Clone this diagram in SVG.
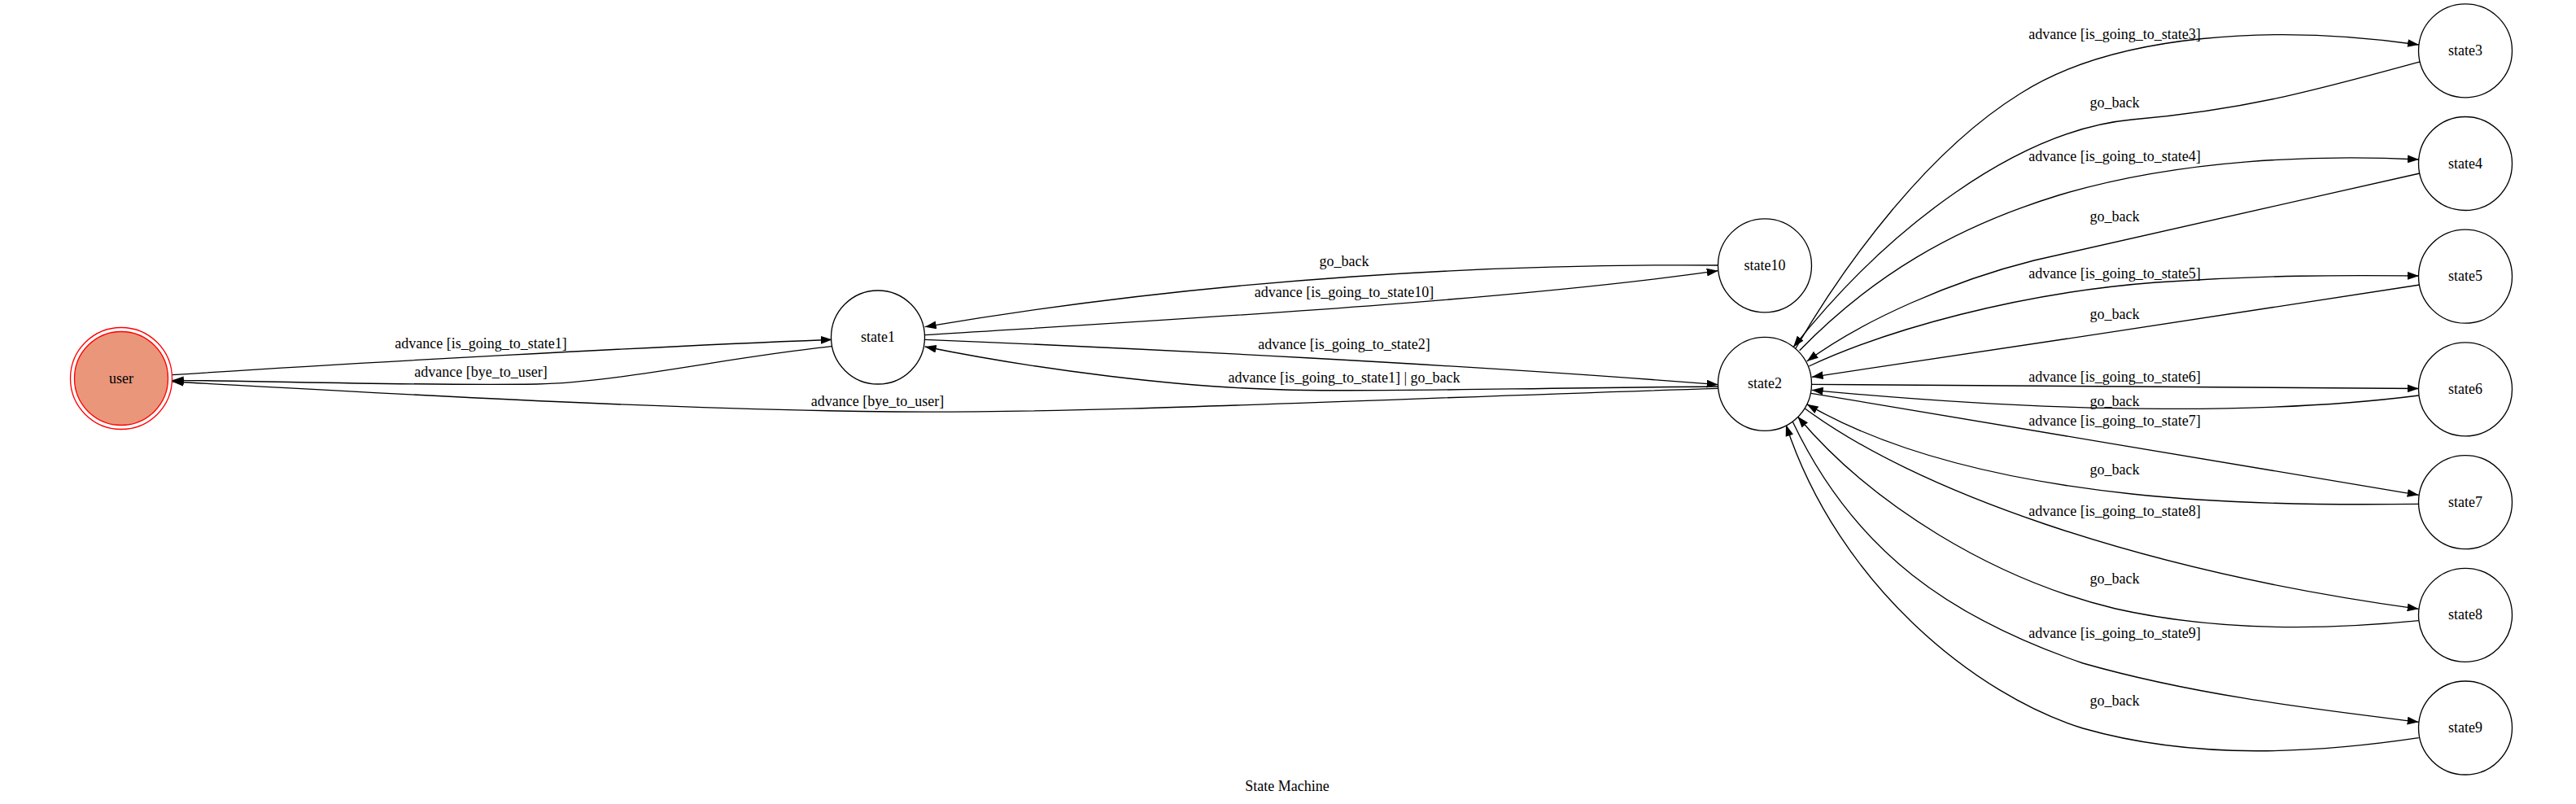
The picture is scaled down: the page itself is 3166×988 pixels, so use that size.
<svg xmlns="http://www.w3.org/2000/svg" width="3166" height="988" viewBox="0 0 3166 988">
<style>
text{font-family:"Liberation Serif","Times New Roman",serif;font-size:18px;fill:#000;text-anchor:middle}
.node{fill:#fff;stroke:#000;stroke-width:1.33}
.edge{fill:none;stroke:#000;stroke-width:1.33;marker-end:url(#arr)}
</style>
<defs>
<marker id="arr" markerUnits="userSpaceOnUse" markerWidth="14" markerHeight="10" viewBox="0 0 13.3 9.34" refX="13.3" refY="4.67" orient="auto">
<path d="M0,0 L13.3,4.67 L0,9.34 Z" fill="#000"/>
</marker>
</defs>
<rect width="3166" height="988" fill="#fff"/>
<g id="edges">
<g id="e-user-state1"><path class="edge" d="M211.7,460.7 C450,445 800,426 1022.7,417.3"/><text x="591" y="428">advance [is_going_to_state1]</text></g>
<g id="e-state1-user"><path class="edge" d="M1022.7,425.7 C900,438 760,470 660,472 C500,474 330,468 211.7,467.3"/><text x="591" y="463">advance [bye_to_user]</text></g>
<g id="e-state2-user"><path class="edge" d="M2111.7,477.3 C1700,490 1350,508 1100,506 C800,503 450,482 211.7,469"/><text x="1078.5" y="499">advance [bye_to_user]</text></g>
<g id="e-state10-state1"><path class="edge" d="M2111.7,326 C1850,324 1500,340 1136.7,401.7"/><text x="1652" y="327">go_back</text></g>
<g id="e-state1-state10"><path class="edge" d="M1136.7,411.7 C1450,392 1850,370 2111.7,332.7"/><text x="1652" y="364.5">advance [is_going_to_state10]</text></g>
<g id="e-state1-state2"><path class="edge" d="M1136.7,417.3 C1400,428 1800,448 2111.7,472.7"/><text x="1652" y="429">advance [is_going_to_state2]</text></g>
<g id="e-state2-state1"><path class="edge" d="M2111.7,475 C1850,477 1700,482 1580,479 C1450,476 1280,455 1136.7,426"/><text x="1652" y="469.5">advance [is_going_to_state1] | go_back</text></g>
<g id="e-state2-state3"><path class="edge" d="M2207,428 C2270,320 2370,185 2483,115 C2600,40 2800,30 2973,55"/><text x="2599" y="48">advance [is_going_to_state3]</text></g>
<g id="e-state3-state2"><path class="edge" d="M2974,76 C2850,110 2760,135 2620,147 C2480,160 2320,280 2204,426.7"/><text x="2599" y="131.5">go_back</text></g>
<g id="e-state2-state4"><path class="edge" d="M2211.7,430.7 C2300,340 2400,280 2530,240 C2680,195 2850,190 2973,196"/><text x="2599" y="198">advance [is_going_to_state4]</text></g>
<g id="e-state4-state2"><path class="edge" d="M2974,213 C2800,252 2600,298 2500,320 C2400,345 2290,393 2220.7,444"/><text x="2599" y="271.5">go_back</text></g>
<g id="e-state2-state5"><path class="edge" d="M2223.3,450 C2320,405 2480,360 2650,347 C2780,338 2880,338 2973,339"/><text x="2599" y="341.5">advance [is_going_to_state5]</text></g>
<g id="e-state5-state2"><path class="edge" d="M2974,350 C2750,385 2450,430 2226.7,463.3"/><text x="2599" y="391.5">go_back</text></g>
<g id="e-state2-state6"><path class="edge" d="M2226.7,472.3 C2500,473 2750,475 2972.7,477.5"/><text x="2599" y="469">advance [is_going_to_state6]</text></g>
<g id="e-state6-state2"><path class="edge" d="M2972.7,486 C2800,508 2550,510 2226.7,479.3"/><text x="2599" y="498.5">go_back</text></g>
<g id="e-state2-state7"><path class="edge" d="M2226,483.3 C2450,522 2750,570 2972.7,608.3"/><text x="2599" y="522.5">advance [is_going_to_state7]</text></g>
<g id="e-state7-state2"><path class="edge" d="M2972.7,619.3 C2850,621 2720,618 2620,607 C2480,592 2330,560 2220.7,496.7"/><text x="2599" y="583">go_back</text></g>
<g id="e-state2-state8"><path class="edge" d="M2218,501.7 C2350,600 2620,700 2972.7,748.3"/><text x="2599" y="634">advance [is_going_to_state8]</text></g>
<g id="e-state8-state2"><path class="edge" d="M2972.7,762.7 C2850,775 2720,775 2600,748 C2450,712 2300,620 2209.3,511.7"/><text x="2599" y="716.5">go_back</text></g>
<g id="e-state2-state9"><path class="edge" d="M2203.3,518.3 C2280,680 2400,760 2560,815 C2700,855 2850,872 2972.7,887.3"/><text x="2599" y="784">advance [is_going_to_state9]</text></g>
<g id="e-state9-state2"><path class="edge" d="M2972.7,906.7 C2850,925 2700,935 2560,895 C2430,855 2260,720 2195,522"/><text x="2599" y="866.5">go_back</text></g>
</g>
<g id="user"><circle cx="149" cy="465" r="57.5" fill="#e9967a" stroke="#ff0000" stroke-width="1.33"/><circle cx="149" cy="465" r="62.5" fill="none" stroke="#ff0000" stroke-width="1.33"/><text x="149" y="470.5">user</text></g>
<g id="state1"><circle class="node" cx="1079" cy="414.5" r="57.5"/><text x="1079" y="420">state1</text></g>
<g id="state10"><circle class="node" cx="2169" cy="326.3" r="57.5"/><text x="2169" y="331.8">state10</text></g>
<g id="state2"><circle class="node" cx="2169" cy="471.8" r="57.5"/><text x="2169" y="477.3">state2</text></g>
<g id="state3"><circle class="node" cx="3030" cy="62.3" r="57.5"/><text x="3030" y="67.8">state3</text></g>
<g id="state4"><circle class="node" cx="3030" cy="201" r="57.5"/><text x="3030" y="206.5">state4</text></g>
<g id="state5"><circle class="node" cx="3030" cy="339.7" r="57.5"/><text x="3030" y="345.2">state5</text></g>
<g id="state6"><circle class="node" cx="3030" cy="478.4" r="57.5"/><text x="3030" y="483.9">state6</text></g>
<g id="state7"><circle class="node" cx="3030" cy="617.1" r="57.5"/><text x="3030" y="622.6">state7</text></g>
<g id="state8"><circle class="node" cx="3030" cy="755.8" r="57.5"/><text x="3030" y="761.3">state8</text></g>
<g id="state9"><circle class="node" cx="3030" cy="894.5" r="57.5"/><text x="3030" y="900">state9</text></g>
<text id="title" x="1582" y="971.7">State Machine</text>
</svg>
